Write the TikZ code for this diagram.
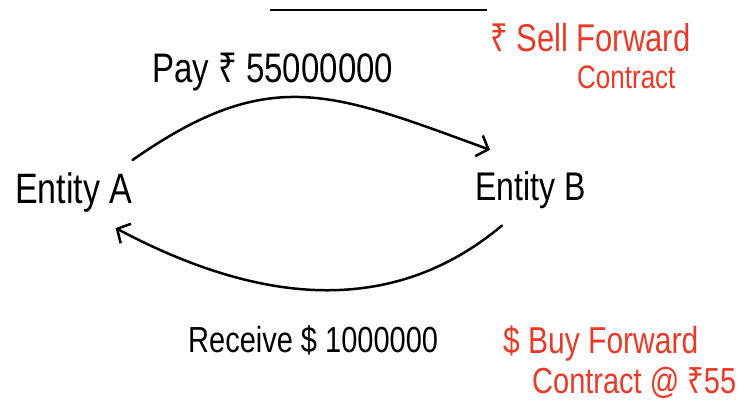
\documentclass[tikz,border=0pt]{standalone}
\usepackage{fontspec}
\usepackage{graphicx}
\setmainfont{Liberation Sans}
\newfontfamily\rupfont{Noto Sans}
\newcommand{\rupsym}{{\rupfont ₹}}
\newcommand{\tall}[1]{\scalebox{1}[1.25]{#1}}
\usetikzlibrary{arrows.meta}
\definecolor{inkred}{RGB}{232,58,40}
\tikzset{
  lbl/.style={inner sep=0pt, anchor=base west, text=black},
  redlbl/.style={inner sep=0pt, anchor=base west, text=inkred},
  arc/.style={draw=black, line width=2.5pt, line cap=round,
    -{Straight Barb[length=10pt,width=22pt,line width=2.5pt]}},
}
\begin{document}
\begin{tikzpicture}[x=1pt,y=1pt]
\useasboundingbox (0,0) rectangle (751,-404);
% top underline
\draw[line width=2.2pt] (270,-10) -- (487,-10);
% labels
\node[lbl, font=\fontsize{33}{36}\selectfont] (pay) at (152,-82) {\tall{Pay \rupsym\ 55000000}};
\node[lbl, font=\fontsize{29}{34}\selectfont] (recv) at (188,-352) {\tall{Receive \$ 1000000}};
\node[lbl, font=\fontsize{34}{38}\selectfont] (A) at (15,-203) {\tall{Entity A}};
\node[lbl, font=\fontsize{32}{36}\selectfont] (B) at (475,-200) {\tall{Entity B}};
% red notes
\node[redlbl, font=\fontsize{31}{36}\selectfont] (sell1) at (490,-52) {\tall{\rupsym\ Sell Forward}};
\node[redlbl, font=\fontsize{26}{30}\selectfont] (sell2) at (577,-88) {\tall{Contract}};
\node[redlbl, font=\fontsize{30}{34}\selectfont] (buy1) at (503,-353) {\tall{\$ Buy Forward}};
\node[redlbl, font=\fontsize{29}{34}\selectfont] (buy2) at (532,-393) {\tall{Contract @ \rupsym55}};
% arcs
\draw[arc] ([yshift=12pt]A.north east) to[out=35,in=160,looseness=1.2] ([shift={(15pt,21pt)}]B.north west);
\draw[arc] ([shift={(27pt,-17pt)}]B.south west) to[out=-140,in=-28] ([shift={(-17pt,-16pt)}]A.south east);
\end{tikzpicture}
\end{document}
